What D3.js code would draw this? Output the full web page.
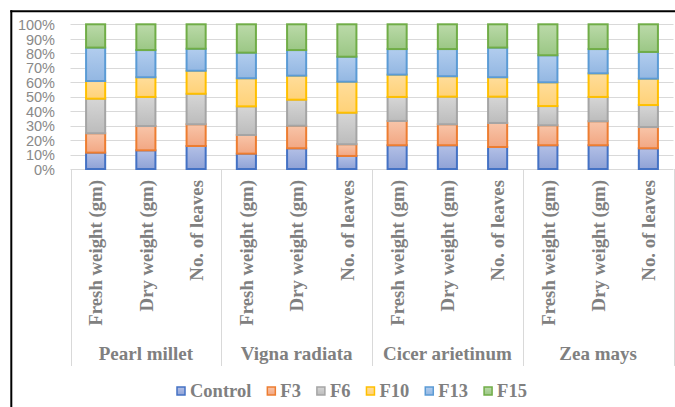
<!DOCTYPE html>
<html>
<head>
<meta charset="utf-8">
<script src="https://cdn.jsdelivr.net/npm/d3@7"></script>
<style>
  html, body { margin: 0; padding: 0; background: #fff; }
  svg { display: block; }
</style>
</head>
<body>
<svg id="chart" width="675" height="407"></svg>
<script>
// Plant groups and the three measured traits per group
const groups = ["Pearl millet", "Vigna radiata", "Cicer arietinum", "Zea mays"];
const traits = ["Fresh weight (gm)", "Dry weight (gm)", "No. of leaves"];
const seriesNames = ["Control", "F3", "F6", "F10", "F13", "F15"];

// Share of each treatment (%), one entry per group/trait bar, in order
const control = [11.3, 12.9, 15.9, 10.6, 14.3, 9.0, 16.4, 16.4, 15.2, 16.4, 16.4, 14.3];
const f3      = [13.4, 16.8, 15.0, 12.9, 15.6, 8.1, 16.8, 14.5, 16.6, 13.8, 16.6, 14.7];
const f6      = [23.9, 20.1, 21.1, 19.8, 18.0, 21.8, 16.6, 19.1, 18.2, 13.3, 16.8, 15.2];
const f10     = [12.2, 13.6, 15.9, 19.4, 16.6, 21.4, 15.4, 14.1, 13.4, 16.4, 16.3, 18.2];
const f13     = [23.1, 18.8, 15.2, 17.7, 17.7, 17.3, 17.7, 18.8, 20.5, 18.7, 16.8, 18.5];
const f15     = [16.1, 17.8, 16.9, 19.6, 17.8, 22.4, 17.1, 17.1, 16.1, 21.4, 17.1, 19.1];
const yTicks = [0, 0.1, 0.2, 0.3, 0.4, 0.5, 0.6, 0.7, 0.8, 0.9, 1.0];

const seriesValues = [control, f3, f6, f10, f13, f15];
const strokeColors = ["#4472c4", "#ed7d31", "#a5a5a5", "#ffc000", "#5b9bd5", "#70ad47"];
const fillTop      = ["#b3c0e6", "#f8c5a9", "#d6d6d6", "#ffdd9b", "#b2cdee", "#bbdaa9"];
const fillBottom   = ["#8fa2d6", "#f2a783", "#bcbcbc", "#ffd278", "#93b7e2", "#9bc785"];

// Build one row per bar
const rows = [];
groups.forEach((g, gi) => {
  traits.forEach((t, ti) => {
    const idx = gi * traits.length + ti;
    const row = { key: g + "|" + t, group: g, trait: t };
    seriesNames.forEach((s, si) => { row[s] = seriesValues[si][idx]; });
    rows.push(row);
  });
});

const svg = d3.select("#chart");
const plot = { left: 70.5, right: 673.5, top: 24.3, bottom: 169 };

const x = d3.scaleBand()
  .domain(rows.map(d => d.key))
  .range([plot.left, plot.right])
  .paddingInner(0.62)
  .paddingOuter(0.31);

const y = d3.scaleLinear().domain([0, 1]).range([plot.bottom, plot.top]);

const stack = d3.stack().keys(seriesNames).offset(d3.stackOffsetExpand);
const stacked = stack(rows);

// Per-series vertical gradients (each segment lighter at its top)
const defs = svg.append("defs");
seriesNames.forEach((s, i) => {
  const grad = defs.append("linearGradient")
    .attr("id", "grad" + i)
    .attr("x1", 0).attr("y1", 0).attr("x2", 0).attr("y2", 1);
  grad.append("stop").attr("offset", "0%").attr("stop-color", fillTop[i]);
  grad.append("stop").attr("offset", "100%").attr("stop-color", fillBottom[i]);
});

// Outer frame (left and top edges visible)
svg.append("line").attr("x1", 11.3).attr("x2", 11.3).attr("y1", 10.3).attr("y2", 407)
  .attr("stroke", "#000").attr("stroke-width", 2);
svg.append("line").attr("x1", 10.3).attr("x2", 675).attr("y1", 11.3).attr("y2", 11.3)
  .attr("stroke", "#000").attr("stroke-width", 2);

// Gridlines
svg.append("g").selectAll("line").data(yTicks).join("line")
  .attr("x1", plot.left).attr("x2", plot.right)
  .attr("y1", d => Math.round(y(d)) + 0.5).attr("y2", d => Math.round(y(d)) + 0.5)
  .attr("stroke", "#d9d9d9").attr("stroke-width", 1);

// Y axis labels
const yAxis = d3.axisLeft(y).tickValues(yTicks).tickFormat(d3.format(".0%")).tickSize(0).tickPadding(0);
const yG = svg.append("g").attr("transform", "translate(55,0)").call(yAxis);
yG.select(".domain").remove();
yG.selectAll("text")
  .attr("fill", "#898989")
  .attr("dy", "0.36em")
  .style("font-family", "'Liberation Sans', Arial, sans-serif")
  .style("font-size", "14.5px");

// Bars
svg.append("g").selectAll("g").data(stacked).join("g")
  .attr("fill", (d, i) => "url(#grad" + i + ")")
  .attr("stroke", (d, i) => strokeColors[i])
  .attr("stroke-width", 2)
  .selectAll("rect").data(d => d).join("rect")
  .attr("x", d => x(d.data.key))
  .attr("width", x.bandwidth())
  .attr("y", d => y(d[1]))
  .attr("height", d => y(d[0]) - y(d[1]));

// Multi-level category axis: group separators
const step = x.step();
const groupEdges = groups.map((g, gi) => plot.left + gi * traits.length * step).concat([plot.right]);
svg.append("g").selectAll("line").data(groupEdges).join("line")
  .attr("x1", d => Math.round(d) + 0.5).attr("x2", d => Math.round(d) + 0.5)
  .attr("y1", plot.bottom).attr("y2", 366)
  .attr("stroke", "#d9d9d9").attr("stroke-width", 1);

// Trait labels (rotated)
svg.append("g").selectAll("text").data(rows).join("text")
  .attr("transform", d => `translate(${x(d.key) + x.bandwidth() / 2 + 6.8},180) rotate(-90)`)
  .attr("text-anchor", "end")
  .attr("fill", "#808080")
  .style("font-family", "'Liberation Serif', 'Times New Roman', serif")
  .style("font-weight", "bold")
  .style("font-size", "18.8px")
  .text(d => d.trait);

// Group labels
svg.append("g").selectAll("text").data(groups).join("text")
  .attr("x", (d, i) => (groupEdges[i] + groupEdges[i + 1]) / 2)
  .attr("y", 360)
  .attr("text-anchor", "middle")
  .attr("fill", "#808080")
  .style("font-family", "'Liberation Serif', 'Times New Roman', serif")
  .style("font-weight", "bold")
  .style("font-size", "19px")
  .text(d => d);

// Legend
const legend = svg.append("g");
let lx = 176;
seriesNames.forEach((s, i) => {
  const item = legend.append("g");
  item.append("rect")
    .attr("x", lx + 1).attr("y", 387)
    .attr("width", 8).attr("height", 8)
    .attr("fill", "url(#grad" + i + ")")
    .attr("stroke", strokeColors[i]).attr("stroke-width", 1.5);
  const t = item.append("text")
    .attr("x", lx + 14).attr("y", 397)
    .attr("fill", "#808080")
    .style("font-family", "'Liberation Serif', 'Times New Roman', serif")
    .style("font-weight", "bold")
    .style("font-size", "18.5px")
    .text(s);
  lx += 14 + t.node().getComputedTextLength() + 15;
});
</script>
</body>
</html>
